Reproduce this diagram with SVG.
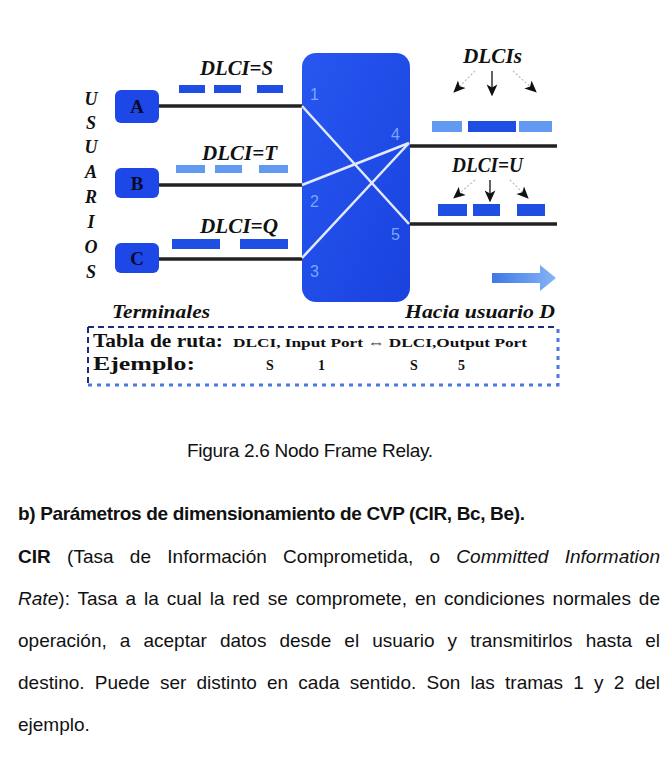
<svg xmlns="http://www.w3.org/2000/svg" width="662" height="762" viewBox="0 0 662 762">
<defs>
<style>
.lbl{font-family:"Liberation Serif","Times New Roman",serif;font-weight:bold;font-style:italic;fill:#111}
.term{fill:#1d47e6}
.tl{font-family:"Liberation Serif","Times New Roman",serif;font-weight:bold;font-size:19px;fill:#0a0a2a;text-anchor:middle}
.line{stroke:#222;stroke-width:3.5;fill:none}
.xl{stroke:#e2eaff;stroke-width:2.5;fill:none}
.port{font-family:"Liberation Sans",Arial,sans-serif;font-size:16px;fill:#7aa6ff}
.fd{fill:#1f4fe2}
.fl{fill:#619af0}
.body{font-family:"Liberation Sans",Arial,sans-serif;font-size:19px;fill:#111}
.tab{font-family:"Liberation Serif","Times New Roman",serif;font-weight:bold;fill:#111}
.us{font-family:"Liberation Serif","Times New Roman",serif;font-weight:bold;font-style:italic;font-size:18px;fill:#111;text-anchor:middle}
.da{stroke:#bbb;stroke-width:1.2;stroke-dasharray:2,2;fill:none}
.dm{stroke:#222;stroke-width:1.4;fill:none}
</style>
<linearGradient id="sw" x1="0" y1="0" x2="1" y2="1">
<stop offset="0" stop-color="#2757f0"/>
<stop offset="1" stop-color="#1a42de"/>
</linearGradient>
<linearGradient id="ar" x1="0" y1="0" x2="1" y2="0">
<stop offset="0" stop-color="#3f78e6"/>
<stop offset="1" stop-color="#86b4f6"/>
</linearGradient>
<marker id="ah" viewBox="0 0 10 10" refX="8" refY="5" markerUnits="userSpaceOnUse" markerWidth="12" markerHeight="12" orient="auto">
<path d="M0,0.5 L10,5 L0,9.5 L2.5,5 z" fill="#111"/>
</marker>
</defs>
<rect width="662" height="762" fill="#fff"/>

<g id="usuarios">
<text class="us" x="91" y="105">U</text>
<text class="us" x="91" y="129">S</text>
<text class="us" x="91" y="153">U</text>
<text class="us" x="91" y="178">A</text>
<text class="us" x="91" y="203">R</text>
<text class="us" x="91" y="228">I</text>
<text class="us" x="91" y="253">O</text>
<text class="us" x="91" y="278">S</text>
</g>

<g id="connectors">
<line class="line" x1="158" y1="106" x2="303" y2="106"/>
<line class="line" x1="158" y1="185" x2="303" y2="185"/>
<line class="line" x1="158" y1="259" x2="303" y2="259"/>
<line class="line" x1="409" y1="146" x2="557" y2="146"/>
<line class="line" x1="409" y1="224" x2="557" y2="224"/>
<path class="da" d="M475,71 L455,91" marker-end="url(#ah)"/>
<path class="dm" d="M492,71 L492,94" marker-end="url(#ah)"/>
<path class="da" d="M513,71 L535,91" marker-end="url(#ah)"/>
<path class="da" d="M475,180 L455,197" marker-end="url(#ah)"/>
<path class="dm" d="M490,180 L490,200" marker-end="url(#ah)"/>
<path class="da" d="M510,180 L527,197" marker-end="url(#ah)"/>
</g>

<g id="terminal-A">
<rect class="term" x="115" y="90" width="44" height="33" rx="6"/>
<text class="tl" x="137" y="113">A</text>
</g>
<g id="terminal-B">
<rect class="term" x="115" y="168" width="44" height="30" rx="6"/>
<text class="tl" x="137" y="190">B</text>
</g>
<g id="terminal-C">
<rect class="term" x="115" y="243" width="44" height="30" rx="6"/>
<text class="tl" x="137" y="265">C</text>
</g>

<g id="switch">
<rect x="302" y="53" width="108" height="249" rx="14" fill="url(#sw)"/>
<line class="xl" x1="302" y1="106" x2="409" y2="224"/>
<line class="xl" x1="302" y1="185" x2="409" y2="143"/>
<line class="xl" x1="302" y1="258" x2="409" y2="143"/>
<text class="port" x="310" y="100">1</text>
<text class="port" x="310" y="207">2</text>
<text class="port" x="310" y="277">3</text>
<text class="port" x="391" y="140">4</text>
<text class="port" x="391" y="240">5</text>
</g>

<g id="frames-S">
<text class="lbl" x="200" y="75" font-size="20" textLength="73" lengthAdjust="spacingAndGlyphs">DLCI=S</text>
<rect class="fd" x="179" y="85" width="26" height="8"/>
<rect class="fd" x="214" y="85" width="27" height="8"/>
<rect class="fd" x="257" y="85" width="26" height="8"/>
</g>
<g id="frames-T">
<text class="lbl" x="202" y="160" font-size="20" textLength="75" lengthAdjust="spacingAndGlyphs">DLCI=T</text>
<rect class="fl" x="176" y="165" width="29" height="8"/>
<rect class="fl" x="215" y="165" width="27" height="8"/>
<rect class="fl" x="259" y="165" width="29" height="8"/>
</g>
<g id="frames-Q">
<text class="lbl" x="200" y="233" font-size="20" textLength="78" lengthAdjust="spacingAndGlyphs">DLCI=Q</text>
<rect class="fd" x="172" y="239" width="48" height="10"/>
<rect class="fd" x="240" y="239" width="48" height="10"/>
</g>
<g id="frames-DLCIs">
<text class="lbl" x="463" y="63" font-size="20" textLength="59" lengthAdjust="spacingAndGlyphs">DLCIs</text>
<rect class="fl" x="432" y="121" width="30" height="11"/>
<rect class="fd" x="468" y="121" width="48" height="11"/>
<rect class="fl" x="519" y="121" width="33" height="11"/>
</g>
<g id="frames-U">
<text class="lbl" x="452" y="172" font-size="20" textLength="71" lengthAdjust="spacingAndGlyphs">DLCI=U</text>
<rect class="fd" x="438" y="204" width="29" height="12"/>
<rect class="fd" x="473" y="204" width="27" height="12"/>
<rect class="fd" x="517" y="204" width="28" height="12"/>
</g>

<g id="direction-arrow">
<polygon points="492,273 540,273 540,265 556,278 540,291 540,283 492,283" fill="url(#ar)"/>
</g>

<g id="captions">
<text class="lbl" x="112" y="318" font-size="19" textLength="98" lengthAdjust="spacingAndGlyphs">Terminales</text>
<text class="lbl" x="405" y="318" font-size="19" textLength="150" lengthAdjust="spacingAndGlyphs">Hacia usuario D</text>
</g>

<g id="routing-table">
<path d="M88,327 H558 M88,327 V385" stroke="#1b2a7a" stroke-width="2" stroke-dasharray="6,4" fill="none"/>
<path d="M88,385 H558 V327" stroke="#4a78dc" stroke-width="3" stroke-dasharray="4,5" fill="none"/>
<text class="tab" x="93" y="347" font-size="19" textLength="130" lengthAdjust="spacingAndGlyphs">Tabla de ruta:</text>
<text class="tab" x="233" y="347" font-size="13" textLength="294" lengthAdjust="spacingAndGlyphs">DLCI, Input Port ⇔ DLCI,Output Port</text>
<text class="tab" x="93" y="370" font-size="19" textLength="102" lengthAdjust="spacingAndGlyphs">Ejemplo:</text>
<text class="tab" x="266" y="370" font-size="14">S</text>
<text class="tab" x="318" y="370" font-size="14">1</text>
<text class="tab" x="410" y="370" font-size="14">S</text>
<text class="tab" x="458" y="370" font-size="14">5</text>
</g>

<g id="text">
<text class="body" x="187" y="457" font-size="18.3" textLength="246" lengthAdjust="spacing">Figura 2.6 Nodo Frame Relay.</text>
<text class="body" x="18" y="520" font-size="18.3" font-weight="bold" textLength="507" lengthAdjust="spacing">b) Parámetros de dimensionamiento de CVP (CIR, Bc, Be).</text>
<text class="body" x="18" y="563" word-spacing="10.9" textLength="642" lengthAdjust="spacing"><tspan font-weight="bold">CIR</tspan> (Tasa de Información Comprometida, o <tspan font-style="italic">Committed Information</tspan></text>
<text class="body" x="18" y="605" word-spacing="2.55" textLength="642" lengthAdjust="spacing"><tspan font-style="italic">Rate</tspan>): Tasa a la cual la red se compromete, en condiciones normales de</text>
<text class="body" x="18" y="647" word-spacing="7.8" textLength="642" lengthAdjust="spacing">operación, a aceptar datos desde el usuario y transmitirlos hasta el</text>
<text class="body" x="18" y="689" word-spacing="4.95" textLength="642" lengthAdjust="spacing">destino. Puede ser distinto en cada sentido. Son las tramas 1 y 2 del</text>
<text class="body" x="18" y="731">ejemplo.</text>
</g>
</svg>
